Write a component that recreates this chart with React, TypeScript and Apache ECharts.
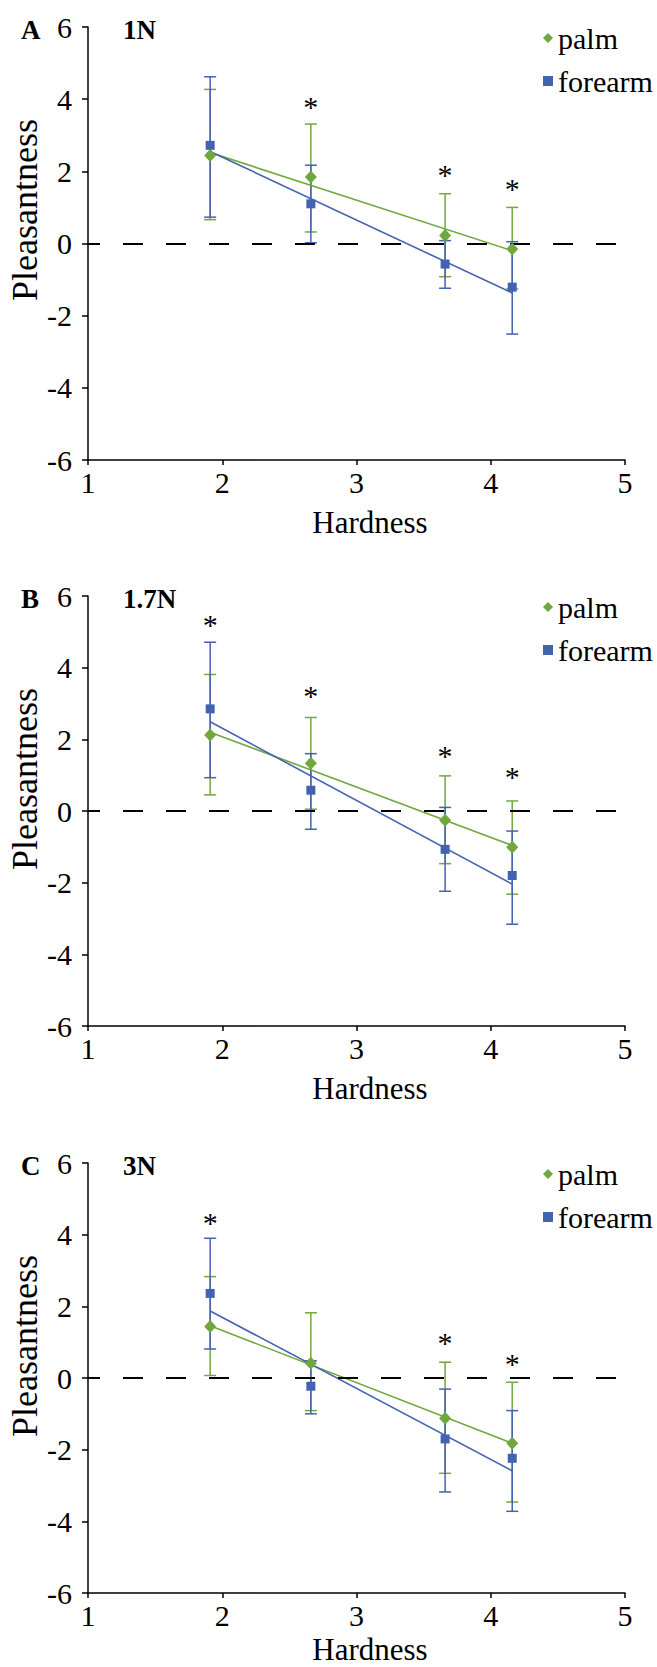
import React, { useEffect, useRef } from "react";
import * as echarts from "echarts";

// Hardness positions of the four stimuli
const hardness = [1.91, 2.66, 3.66, 4.16];

// Panel A (1N)
const palmMeanA = [2.44, 1.84, 0.22, -0.15];
const palmHighA = [4.27, 3.31, 1.38, 1.0];
const palmLowA = [0.66, 0.32, -0.92, -1.26];
const forearmMeanA = [2.72, 1.1, -0.57, -1.21];
const forearmHighA = [4.62, 2.17, 0.08, 0.05];
const forearmLowA = [0.73, 0.02, -1.24, -2.51];
const palmTrendA = [2.52, -0.2];
const forearmTrendA = [2.55, -1.37];
const starsA = [null, 3.97, 2.08, 1.7];

// Panel B (1.7N)
const palmMeanB = [2.12, 1.33, -0.26, -1.01];
const palmHighB = [3.81, 2.61, 0.98, 0.28];
const palmLowB = [0.45, 0.05, -1.47, -2.32];
const forearmMeanB = [2.85, 0.58, -1.07, -1.8];
const forearmHighB = [4.71, 1.6, 0.1, -0.56];
const forearmLowB = [0.93, -0.51, -2.24, -3.16];
const palmTrendB = [2.2, -0.96];
const forearmTrendB = [2.49, -2.04];
const starsB = [5.37, 3.4, 1.73, 1.12];

// Panel C (3N)
const palmMeanC = [1.44, 0.41, -1.12, -1.82];
const palmHighC = [2.83, 1.82, 0.44, -0.12];
const palmLowC = [0.07, -0.91, -2.66, -3.46];
const forearmMeanC = [2.36, -0.23, -1.7, -2.24];
const forearmHighC = [3.9, 0.48, -0.31, -0.91];
const forearmLowC = [0.81, -1.0, -3.18, -3.72];
const palmTrendC = [1.46, -1.82];
const forearmTrendC = [1.87, -2.59];
const starsC = [4.5, null, 1.16, 0.58];

const panelLetters = ["A", "B", "C"];
const forceLabels = ["1N", "1.7N", "3N"];
const seriesNames = ["palm", "forearm"];
const xTitle = "Hardness";
const yTitle = "Pleasantness";

const panels = [
  { palmMean: palmMeanA, palmHigh: palmHighA, palmLow: palmLowA, forearmMean: forearmMeanA, forearmHigh: forearmHighA, forearmLow: forearmLowA, palmTrend: palmTrendA, forearmTrend: forearmTrendA, stars: starsA },
  { palmMean: palmMeanB, palmHigh: palmHighB, palmLow: palmLowB, forearmMean: forearmMeanB, forearmHigh: forearmHighB, forearmLow: forearmLowB, palmTrend: palmTrendB, forearmTrend: forearmTrendB, stars: starsB },
  { palmMean: palmMeanC, palmHigh: palmHighC, palmLow: palmLowC, forearmMean: forearmMeanC, forearmHigh: forearmHighC, forearmLow: forearmLowC, palmTrend: palmTrendC, forearmTrend: forearmTrendC, stars: starsC },
];

const FONT = "Liberation Serif";
const GREEN = "#70A83E";
const BLUE = "#4462B2";
const LEFT = 88;
const WIDTH = 537;
const layout = [
  { top: 27, height: 433 },
  { top: 596, height: 430 },
  { top: 1163, height: 430 },
];

function errorBarRender(color: string) {
  return (params: any, api: any) => {
    const x = api.value(0);
    const lo = api.value(1);
    const hi = api.value(2);
    const t = api.coord([x, hi]);
    const b = api.coord([x, lo]);
    const s = { stroke: color, lineWidth: 1.5 };
    return {
      type: "group",
      children: [
        { type: "line", shape: { x1: t[0], y1: t[1], x2: b[0], y2: b[1] }, style: s },
        { type: "line", shape: { x1: t[0] - 6, y1: t[1], x2: t[0] + 6, y2: t[1] }, style: s },
        { type: "line", shape: { x1: b[0] - 6, y1: b[1], x2: b[0] + 6, y2: b[1] }, style: s },
      ],
    };
  };
}

function starRender(params: any, api: any) {
  const p = api.coord([api.value(0), api.value(1)]);
  return {
    type: "text",
    x: p[0],
    y: p[1] + 6,
    style: { text: "*", fontSize: 30, fontFamily: FONT, fill: "#000", align: "center", verticalAlign: "middle" },
  };
}

function buildOption() {
  const series: any[] = [];
  const graphic: any[] = [];
  panels.forEach((p, i) => {
    const ax = { xAxisIndex: i, yAxisIndex: i };
    series.push({
      type: "custom", name: "palm SD", ...ax, renderItem: errorBarRender(GREEN), z: 2,
      data: hardness.map((x, j) => [x, p.palmLow[j], p.palmHigh[j]]),
    });
    series.push({
      type: "custom", name: "forearm SD", ...ax, renderItem: errorBarRender(BLUE), z: 3,
      data: hardness.map((x, j) => [x, p.forearmLow[j], p.forearmHigh[j]]),
    });
    series.push({
      type: "line", name: "palm trend", ...ax, symbol: "none", z: 4,
      lineStyle: { color: GREEN, width: 1.6 },
      data: [[hardness[0], p.palmTrend[0]], [hardness[hardness.length - 1], p.palmTrend[1]]],
      markLine: {
        silent: true, symbol: ["none", "none"], label: { show: false },
        lineStyle: { color: "#000", type: [20, 23], width: 2, dashOffset: 8 },
        data: [{ yAxis: 0 }],
      },
    });
    series.push({
      type: "line", name: "forearm trend", ...ax, symbol: "none", z: 4,
      lineStyle: { color: BLUE, width: 1.6 },
      data: [[hardness[0], p.forearmTrend[0]], [hardness[hardness.length - 1], p.forearmTrend[1]]],
    });
    series.push({
      type: "scatter", name: seriesNames[0], ...ax, symbol: "diamond", symbolSize: [12, 13], z: 5,
      itemStyle: { color: GREEN, opacity: 1 },
      data: hardness.map((x, j) => [x, p.palmMean[j]]),
    });
    series.push({
      type: "scatter", name: seriesNames[1], ...ax, symbol: "rect", symbolSize: 9, z: 5,
      itemStyle: { color: BLUE, opacity: 1 },
      data: hardness.map((x, j) => [x, p.forearmMean[j]]),
    });
    series.push({
      type: "custom", name: "significance", ...ax, renderItem: starRender, z: 6,
      data: hardness.map((x, j) => (p.stars[j] == null ? null : [x, p.stars[j]])).filter((d) => d),
    });

    const top = layout[i].top;
    const bottom = top + layout[i].height;
    graphic.push({
      type: "text", x: 21, y: top + 3,
      style: { text: panelLetters[i], fontSize: 27, fontWeight: "bold", fontFamily: FONT, fill: "#000", align: "left", verticalAlign: "middle" },
    });
    graphic.push({
      type: "text", x: 123, y: top + 3,
      style: { text: forceLabels[i], fontSize: 27, fontWeight: "bold", fontFamily: FONT, fill: "#000", align: "left", verticalAlign: "middle" },
    });
    graphic.push({
      type: "text", x: 25, y: top + 183, rotation: Math.PI / 2,
      style: { text: yTitle, fontSize: 36, fontFamily: FONT, fill: "#000", align: "center", verticalAlign: "middle" },
    });
    graphic.push({
      type: "text", x: 370, y: Math.min(bottom + 62, 1649),
      style: { text: xTitle, fontSize: 31, fontFamily: FONT, fill: "#000", align: "center", verticalAlign: "middle" },
    });
  });

  return {
    animation: false,
    backgroundColor: "#fff",
    grid: layout.map((l) => ({ left: LEFT, top: l.top, width: WIDTH, height: l.height })),
    xAxis: layout.map((l, i) => ({
      type: "value", gridIndex: i, min: 1, max: 5, interval: 1,
      axisLine: { onZero: false, lineStyle: { color: "#000", width: 1.5 } },
      axisTick: { inside: false, length: 5, lineStyle: { color: "#000", width: 1.5 } },
      splitLine: { show: false },
      axisLabel: { fontSize: 30, fontFamily: FONT, color: "#000", margin: 7 },
    })),
    yAxis: layout.map((l, i) => ({
      type: "value", gridIndex: i, min: -6, max: 6, interval: 2,
      axisLine: { onZero: false, lineStyle: { color: "#000", width: 1.5 } },
      axisTick: { inside: false, length: 6, lineStyle: { color: "#000", width: 1.5 } },
      splitLine: { show: false },
      axisLabel: { fontSize: 30, fontFamily: FONT, color: "#000", margin: 16 },
    })),
    legend: layout.map((l) => ({
      orient: "vertical", left: 538, top: l.top + 6 - 16,
      itemWidth: 10, itemHeight: 10, itemGap: 11, selectedMode: false,
      textStyle: { fontSize: 30, fontFamily: FONT, color: "#000", lineHeight: 32 },
      data: [
        { name: seriesNames[0], icon: "diamond" },
        { name: seriesNames[1], icon: "rect" },
      ],
    })),
    series,
    graphic,
  };
}

export default function App() {
  const ref = useRef<HTMLDivElement>(null);
  useEffect(() => {
    if (!ref.current) return;
    const chart = echarts.init(ref.current, null, { renderer: "svg" });
    chart.setOption(buildOption() as any);
    return () => chart.dispose();
  }, []);
  return (
    <div
      ref={ref}
      style={{ position: "absolute", left: 0, top: 0, width: 657, height: 1667, background: "#fff" }}
    />
  );
}
